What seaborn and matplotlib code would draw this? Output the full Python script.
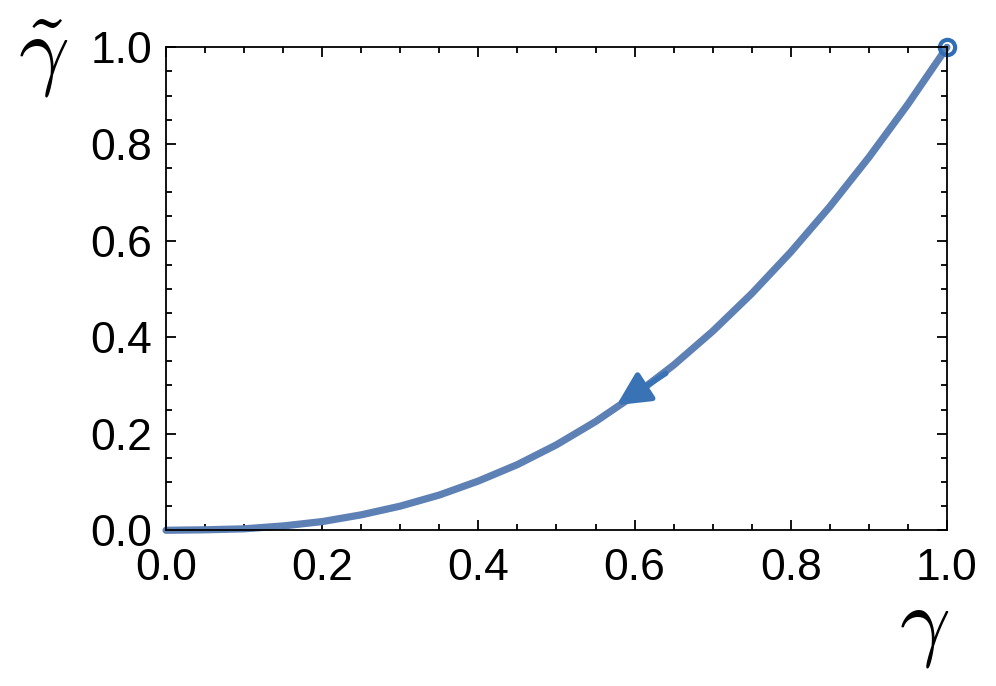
import matplotlib
matplotlib.use("Agg")
import matplotlib.pyplot as plt
import numpy as np
import pandas as pd
import seaborn as sns
from matplotlib.ticker import MultipleLocator

# values
gamma = [0.0, 0.05, 0.1, 0.15, 0.2, 0.25, 0.3, 0.35, 0.4, 0.45, 0.5,
         0.55, 0.6, 0.65, 0.7, 0.75, 0.8, 0.85, 0.9, 0.95, 1.0]
gamma_tilde = [0.0, 0.001, 0.003, 0.009, 0.018, 0.032, 0.050, 0.073, 0.102,
               0.136, 0.177, 0.225, 0.280, 0.342, 0.412, 0.490, 0.576,
               0.670, 0.772, 0.882, 1.0]
arrow_tail = (0.64, 0.325)
arrow_head = (0.577, 0.259)
start_point = (1.0, 1.0)

df = pd.DataFrame({"gamma": gamma, "gamma_tilde": gamma_tilde})

sns.set_style("ticks")
plt.rcParams["font.family"] = ["Liberation Sans", "DejaVu Sans"]
plt.rcParams["mathtext.fontset"] = "cm"

fig = plt.figure(figsize=(9.96, 6.86), dpi=100)
ax = fig.add_axes([0.1667, 0.227, 0.784, 0.704])

sns.lineplot(data=df, x="gamma", y="gamma_tilde", ax=ax, color="#5e81b5",
             linewidth=5.2, clip_on=False, solid_joinstyle="round")
ax.annotate("", xy=arrow_head, xytext=arrow_tail,
            arrowprops=dict(arrowstyle="-|>,head_length=2.0,head_width=1.0",
                            color="#3a73b5", lw=4, shrinkA=0, shrinkB=0))
ax.plot(*start_point, marker="o", markersize=11, markerfacecolor="none",
        markeredgecolor="#2f6db5", markeredgewidth=3, clip_on=False)

ax.set_xlim(0, 1)
ax.set_ylim(0, 1)
ax.xaxis.set_major_locator(MultipleLocator(0.2))
ax.yaxis.set_major_locator(MultipleLocator(0.2))
ax.xaxis.set_minor_locator(MultipleLocator(0.05))
ax.yaxis.set_minor_locator(MultipleLocator(0.05))
ax.xaxis.set_major_formatter(plt.FormatStrFormatter("%.1f"))
ax.yaxis.set_major_formatter(plt.FormatStrFormatter("%.1f"))
ax.tick_params(which="both", direction="in", top=True, right=True,
               width=1.3, color="black", labelcolor="black")
ax.tick_params(which="major", length=7, labelsize=32)
ax.tick_params(axis="x", which="major", pad=13)
ax.tick_params(axis="y", which="major", pad=10)
ax.tick_params(which="minor", length=4)
for s in ax.spines.values():
    s.set_visible(True)
    s.set_linewidth(1.3)
    s.set_color("black")

ax.set_xlabel("")
ax.set_ylabel("")
fig.text(0.043, 0.915, r"$\tilde{\gamma}$", fontsize=64, color="black",
         ha="center", va="center")
fig.text(0.928, 0.085, r"$\gamma$", fontsize=64, color="black",
         ha="center", va="center")

fig.savefig("out.png", dpi=100)
